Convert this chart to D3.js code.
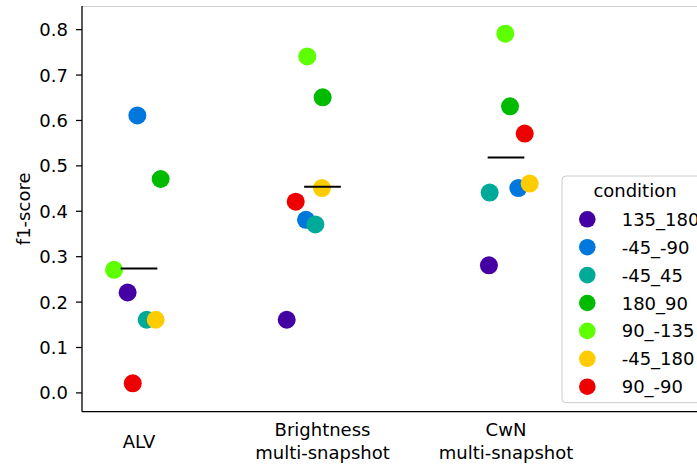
<!DOCTYPE html>
<html>
<head>
<meta charset="utf-8">
<script src="https://cdn.jsdelivr.net/npm/d3@7"></script>
<style>
  html, body { margin: 0; padding: 0; background: #fff; }
  svg { display: block; }
  text { font-family: "DejaVu Sans", sans-serif; fill: #000; }
</style>
</head>
<body>
<svg id="chart" width="697" height="467"></svg>
<script>
// Methods on the x axis (line breaks split the tick labels)
const methods = ["ALV", "Brightness\nmulti-snapshot", "CwN\nmulti-snapshot"];

// Conditions, in legend / drawing order
const conditions = ["135_180", "-45_-90", "-45_45", "180_90", "90_-135", "-45_180", "90_-90"];

// f1-score per condition, one array per method
const scoresALV        = [0.22, 0.61, 0.16, 0.47, 0.27, 0.16, 0.02];
const scoresBrightness = [0.16, 0.38, 0.37, 0.65, 0.74, 0.45, 0.42];
const scoresCwN        = [0.28, 0.45, 0.44, 0.63, 0.79, 0.46, 0.57];

// Strip-plot jitter per point (fraction of the category step)
const jitterALV        = [-0.062, -0.009, 0.042, 0.118, -0.136, 0.091, -0.034];
const jitterBrightness = [-0.195, -0.090, -0.039, 0.001, -0.083, -0.003, -0.146];
const jitterCwN        = [-0.093, 0.067, -0.089, 0.022, -0.004, 0.129, 0.102];

// Y-axis ticks
const yTicks = [0.0, 0.1, 0.2, 0.3, 0.4, 0.5, 0.6, 0.7, 0.8];

// Colours sampled from nipy_spectral at (i+1)/8
const palette = ["#4400a2", "#0077dd", "#00aa99", "#00bb00", "#5eff00", "#ffcc00", "#ee0000"];

const scoreSets = [scoresALV, scoresBrightness, scoresCwN];
const jitterSets = [jitterALV, jitterBrightness, jitterCwN];

const points = [];
methods.forEach((m, mi) => {
  conditions.forEach((c, ci) => {
    points.push({ method: m, condition: c, value: scoreSets[mi][ci], jitter: jitterSets[mi][ci], order: ci });
  });
});
const means = methods.map((m, mi) => ({ method: m, value: d3.mean(scoreSets[mi]) }));

const svg = d3.select("#chart");
const plot = { left: 82, right: 760, top: 6, bottom: 411.7 };

const x = d3.scalePoint().domain(methods).range([139, 506]);
const step = x(methods[1]) - x(methods[0]);
const y = d3.scaleLinear().domain([-0.0425, 0.851]).range([plot.bottom, plot.top]);
const color = d3.scaleOrdinal().domain(conditions).range(palette);

// Top spine (light)
svg.append("line")
  .attr("x1", plot.left).attr("x2", plot.right)
  .attr("y1", plot.top + 0.5).attr("y2", plot.top + 0.5)
  .attr("stroke", "#d0d0d0").attr("stroke-width", 1);

// Points
svg.append("g").selectAll("circle")
  .data(points.sort((a, b) => a.order - b.order))
  .join("circle")
  .attr("cx", d => x(d.method) + d.jitter * step)
  .attr("cy", d => y(d.value))
  .attr("r", 9)
  .attr("fill", d => color(d.condition));

// Mean markers
svg.append("g").selectAll("line")
  .data(means)
  .join("line")
  .attr("x1", d => x(d.method) - 0.1 * step)
  .attr("x2", d => x(d.method) + 0.1 * step)
  .attr("y1", d => y(d.value))
  .attr("y2", d => y(d.value))
  .attr("stroke", "#000")
  .attr("stroke-width", 2);

// Y axis
const yAxis = svg.append("g")
  .attr("transform", `translate(${plot.left},0)`)
  .call(d3.axisLeft(y).tickValues(yTicks).tickFormat(d3.format(".1f")).tickSize(6).tickPadding(8));
yAxis.select(".domain").remove();
yAxis.selectAll(".tick line").attr("stroke", "#000").attr("stroke-width", 1.25);
yAxis.selectAll(".tick text")
  .attr("font-family", "DejaVu Sans").attr("font-size", 18).attr("fill", "#000")
  .attr("dy", "0.36em");

// Spines
svg.append("line")
  .attr("x1", plot.left).attr("x2", plot.left)
  .attr("y1", plot.top).attr("y2", plot.bottom)
  .attr("stroke", "#000").attr("stroke-width", 1.3);
svg.append("line")
  .attr("x1", plot.left).attr("x2", plot.right)
  .attr("y1", plot.bottom).attr("y2", plot.bottom)
  .attr("stroke", "#000").attr("stroke-width", 1.3);

// X tick labels (multi-line, vertically centred)
const lineH = 23.3;
const xLabels = svg.append("g");
methods.forEach(m => {
  const lines = m.split("\n");
  const t = xLabels.append("text")
    .attr("text-anchor", "middle")
    .attr("font-size", 18);
  lines.forEach((ln, i) => {
    t.append("tspan")
      .attr("x", x(m))
      .attr("y", 447.5 + (i - (lines.length - 1) / 2) * lineH)
      .text(ln);
  });
});

// Y axis title
svg.append("text")
  .attr("transform", `translate(30,${(plot.top + plot.bottom) / 2}) rotate(-90)`)
  .attr("text-anchor", "middle")
  .attr("font-size", 18)
  .text("f1-score");

// Legend
const legend = svg.append("g");
legend.append("rect")
  .attr("x", 562).attr("y", 176)
  .attr("width", 146).attr("height", 226.7)
  .attr("rx", 4)
  .attr("fill", "#fff").attr("fill-opacity", 0.8)
  .attr("stroke", "#cccccc").attr("stroke-width", 1);
legend.append("text")
  .attr("x", 635).attr("y", 197.3)
  .attr("text-anchor", "middle")
  .attr("font-size", 18)
  .text("condition");
const entryY = d3.scaleLinear().domain([0, conditions.length - 1]).range([219.3, 386.7]);
const entries = legend.selectAll("g.entry")
  .data(conditions)
  .join("g")
  .attr("class", "entry")
  .attr("transform", (d, i) => `translate(0,${entryY(i)})`);
entries.append("circle")
  .attr("cx", 587.3).attr("cy", 0).attr("r", 8.3)
  .attr("fill", d => color(d));
entries.append("text")
  .attr("x", 621.7).attr("y", 6.5)
  .attr("font-size", 18)
  .text(d => d);
</script>
</body>
</html>
